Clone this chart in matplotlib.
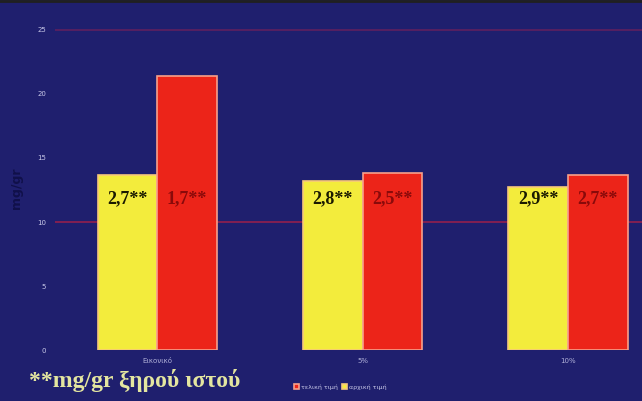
import numpy as np
import matplotlib.pyplot as plt

categories = ['Εικονικό', '5%', '10%']
yellow_vals = [13.7, 13.2, 12.7]
red_vals = [21.4, 13.8, 13.7]
yellow_labels = ['2,7**', '2,8**', '2,9**']
red_labels = ['1,7**', '2,5**', '2,7**']
legend_names = ['τελική τιμή', 'αρχική τιμή']
ref_levels = [10, 25]

bg = '#1f1f6e'
fig = plt.figure(figsize=(6.42, 4.01), dpi=100)
fig.patch.set_facecolor(bg)
ax = fig.add_axes([0.085, 0.127, 0.915, 0.808])
ax.set_facecolor(bg)

x = np.arange(len(categories))
w = 0.29
yb = ax.bar(x - w / 2, yellow_vals, w, color='#f3ec3c', edgecolor='#f7c87a', linewidth=1.2, zorder=3)
rb = ax.bar(x + w / 2, red_vals, w, color='#ec2419', edgecolor='#f7a08a', linewidth=1.2, zorder=3)

ax.axhline(ref_levels[0], color='#8a2050', linewidth=1.3, zorder=2)
ax.axhline(ref_levels[1], color='#5a2060', linewidth=1.3, zorder=2)

for i in range(len(categories)):
    ax.text(x[i] - w / 2, 11.8, yellow_labels[i], ha='center', va='center',
            fontsize=13, fontweight='bold', family='Liberation Serif', color='#1a1a00', zorder=4)
    ax.text(x[i] + w / 2, 11.8, red_labels[i], ha='center', va='center',
            fontsize=13, fontweight='bold', family='Liberation Serif', color='#8a0a0a', zorder=4)

ax.set_xlim(-0.5, 2.36)
ax.set_ylim(0, 25.3)
ax.set_yticks([0, 5, 10, 15, 20, 25])
ax.tick_params(axis='y', colors='#c8c8e8', labelsize=5, length=0, pad=6)
ax.set_xticks(x)
ax.set_xticklabels(categories)
ax.tick_params(axis='x', colors='#b0b0d8', labelsize=5, length=0, pad=6)
for s in ax.spines.values():
    s.set_visible(False)
ax.set_ylabel('mg/gr', color='#10104a', fontsize=9, fontweight='bold', labelpad=10)

# footnote and legend under the axes
fig.text(0.045, 0.035, '**mg/gr ξηρού ιστού', fontsize=17, fontweight='bold',
         family='Liberation Serif', color='#e4e6a0')
fig.legend([rb, yb], legend_names, loc='center', bbox_to_anchor=(0.53, 0.035),
           ncol=2, frameon=False, fontsize=4.5, labelcolor='#c8c8e8',
           handlelength=0.8, handleheight=0.8, columnspacing=0.8, handletextpad=0.3)

fig.add_artist(plt.Line2D([0, 1], [0.997, 0.997], color='#202020', linewidth=2, transform=fig.transFigure))

fig.savefig('out.png', dpi=100, facecolor=fig.get_facecolor())
